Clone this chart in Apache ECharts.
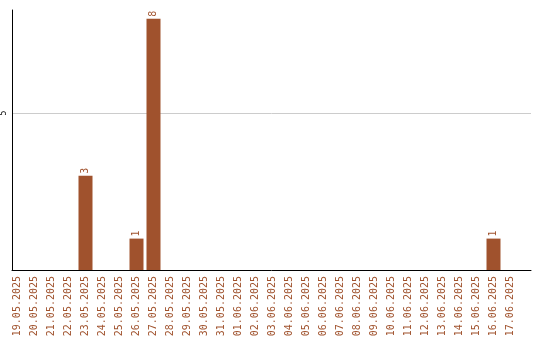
<!DOCTYPE html>
<html>
<head>
<meta charset="utf-8">
<script src="https://cdn.jsdelivr.net/npm/echarts@6/dist/echarts.min.js"></script>
<style>
  html, body { margin: 0; padding: 0; background: #fff; }
  #chart { width: 540px; height: 340px; }
</style>
</head>
<body>
<div id="chart"></div>
<script>
// Daily counts, 19.05.2025 – 17.06.2025
const dates = [
  '19.05.2025', '20.05.2025', '21.05.2025', '22.05.2025', '23.05.2025',
  '24.05.2025', '25.05.2025', '26.05.2025', '27.05.2025', '28.05.2025',
  '29.05.2025', '30.05.2025', '31.05.2025', '01.06.2025', '02.06.2025',
  '03.06.2025', '04.06.2025', '05.06.2025', '06.06.2025', '07.06.2025',
  '08.06.2025', '09.06.2025', '10.06.2025', '11.06.2025', '12.06.2025',
  '13.06.2025', '14.06.2025', '15.06.2025', '16.06.2025', '17.06.2025'
];
const counts = [
  0, 0, 0, 0, 3,
  0, 0, 1, 8, 0,
  0, 0, 0, 0, 0,
  0, 0, 0, 0, 0,
  0, 0, 0, 0, 0,
  0, 0, 0, 1, 0
];
const yTickValues = [5];
const yMax = 8.28;

const brown = '#A0522D';
const mono = '"DejaVu Sans Mono", "Liberation Mono", monospace';

const chart = echarts.init(document.getElementById('chart'), null, { renderer: 'canvas' });

chart.setOption({
  animation: false,
  backgroundColor: '#fff',
  grid: [
    // frame: axis lines and the horizontal guide line
    { left: 10, right: 9, top: 10, bottom: 70, containLabel: false },
    // bars and date labels
    { left: 9, width: 510, top: 10, bottom: 70, containLabel: false }
  ],
  xAxis: [
    {
      gridIndex: 0, type: 'value', min: 0, max: 1,
      axisLine: { show: true, lineStyle: { color: '#000', width: 1 } },
      axisTick: { show: false }, axisLabel: { show: false }, splitLine: { show: false }
    },
    {
      gridIndex: 1, type: 'category', data: dates,
      axisLine: { show: false }, axisTick: { show: false }, splitLine: { show: false },
      axisLabel: {
        interval: 0, rotate: 90, margin: 6,
        color: brown, fontFamily: mono, fontSize: 10
      }
    }
  ],
  yAxis: [
    {
      gridIndex: 0, type: 'value', min: 0, max: yMax, interval: 5,
      axisLine: { show: true, lineStyle: { color: '#000', width: 1 } },
      axisTick: { show: false },
      axisLabel: {
        rotate: 90, margin: 4, color: '#000', fontFamily: mono, fontSize: 8,
        formatter: v => (yTickValues.indexOf(v) >= 0 ? String(v) : '')
      },
      splitLine: {
        show: true,
        lineStyle: { color: ['rgba(0,0,0,0)', '#cccccc', 'rgba(0,0,0,0)'], width: 1 }
      }
    },
    {
      gridIndex: 1, type: 'value', min: 0, max: yMax, show: false,
      splitLine: { show: false }
    }
  ],
  series: [
    {
      type: 'bar',
      xAxisIndex: 1, yAxisIndex: 1,
      data: counts,
      barWidth: 14,
      itemStyle: { color: brown },
      label: {
        show: true, position: 'top', distance: 2,
        rotate: 90, align: 'left', verticalAlign: 'middle',
        color: brown, fontFamily: mono, fontSize: 10,
        formatter: p => (p.value ? String(p.value) : '')
      }
    }
  ]
});
</script>
</body>
</html>
